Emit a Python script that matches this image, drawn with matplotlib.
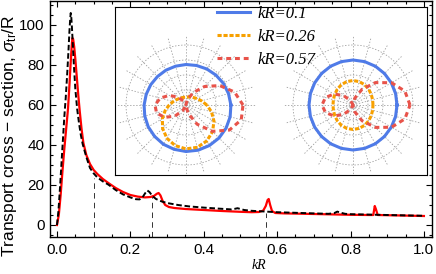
import numpy as np
import matplotlib
matplotlib.use("Agg")
import matplotlib.pyplot as plt

plt.rcParams['font.family'] = ['Liberation Sans', 'DejaVu Sans']
plt.rcParams['mathtext.fontset'] = 'custom'
plt.rcParams['mathtext.rm'] = 'Liberation Sans'
plt.rcParams['mathtext.it'] = 'Liberation Sans:italic'
plt.rcParams['lines.scale_dashes'] = False

# main curves: transport cross-section vs kR
kr_black = [0.0, 0.004, 0.008, 0.012, 0.016, 0.02, 0.024, 0.028, 0.031, 0.034, 0.036,
            0.0375, 0.039, 0.041, 0.043, 0.046, 0.05, 0.055, 0.06, 0.065, 0.07, 0.08,
            0.09, 0.1, 0.11, 0.125, 0.14, 0.16, 0.18, 0.2, 0.215, 0.225, 0.233, 0.24,
            0.246, 0.252, 0.26, 0.27, 0.285, 0.3, 0.33, 0.36, 0.4, 0.44, 0.475, 0.485,
            0.492, 0.5, 0.51, 0.53, 0.56, 0.6, 0.65, 0.7, 0.74, 0.755, 0.764, 0.772,
            0.785, 0.8, 0.85, 0.9, 0.95, 1.0]
sig_black = [0, 7, 18, 30, 42, 54, 64, 76, 86, 97, 103,
             106, 104, 98, 91, 80, 68, 58, 51, 45, 40.5, 34,
             28.5, 25.8, 23.8, 21.8, 20.2, 17.5, 15.3, 13.8, 12.9, 12.8, 13.8, 15.8,
             17.3, 16.5, 14.5, 13, 11.8, 11, 10, 9.3, 8.7, 8.2, 7.8, 8.1,
             8.4, 8, 7.5, 7.1, 6.8, 6.4, 6.1, 5.8, 5.6, 5.9, 6.7, 6.2,
             5.6, 5.4, 5.2, 5.0, 4.8, 4.6]

kr_red = [0.0, 0.005, 0.01, 0.015, 0.02, 0.025, 0.03, 0.034, 0.037, 0.04, 0.042, 0.044,
          0.047, 0.05, 0.054, 0.058, 0.062, 0.067, 0.072, 0.08, 0.09, 0.1, 0.11, 0.125,
          0.14, 0.16, 0.18, 0.2, 0.22, 0.24, 0.255, 0.265, 0.272, 0.277, 0.282, 0.288,
          0.295, 0.305, 0.32, 0.35, 0.4, 0.45, 0.5, 0.53, 0.55, 0.562, 0.569, 0.574,
          0.577, 0.581, 0.586, 0.595, 0.62, 0.65, 0.7, 0.75, 0.8, 0.85, 0.862, 0.866,
          0.869, 0.874, 0.9, 0.95, 1.0]
sig_red = [0, 5, 15, 27, 38, 48, 58, 70, 80, 89, 93.5, 93,
           89, 83, 74, 65, 57, 48, 41, 35, 30.5, 27.5, 25.5, 23,
           21, 18.5, 16.5, 15, 14.2, 13.8, 14, 14.6, 15.6, 16, 14.8, 12,
           10, 9, 8.5, 8, 7.5, 7, 6.6, 6.4, 6.5, 7.2, 9.5, 12.5,
           13, 10, 7, 6, 5.8, 5.7, 5.5, 5.3, 5.1, 5.0, 5.0, 9.5,
           8, 5, 4.9, 4.7, 4.5]

# marked kR values (dashed verticals) and where they stop
mark_kr = [0.1, 0.26, 0.57]
mark_top = [23.5, 15, 6]

# polar inset: angle grid (deg) and radii (px-like units) for each kR
theta_deg = list(range(0, 360, 15))
# left panel
rL_01 = [44.9, 44.0, 43.2, 42.3, 41.6, 40.9, 40.5, 40.2, 40.2, 40.3, 40.7, 41.2,
         41.9, 42.7, 43.6, 44.4, 45.3, 45.9, 46.5, 46.8, 46.8, 46.7, 46.3, 45.7]
rL_026 = [20.8, 16.1, 12.8, 10.5, 9.1, 8.3, 7.9, 7.95, 8.4, 9.3, 10.8, 13.2,
          16.8, 21.6, 27.3, 33.1, 38.3, 42.0, 43.9, 43.8, 41.5, 37.6, 32.3, 26.4]
rL_057 = [57.0, 50.2, 38.9, 26.1, 14.3, 5.5, 0.7, 0.4, 4.1, 10.9, 19.3, 26.7,
          31.0, 30.5, 24.8, 15.7, 6.3, 0.6, 1.2, 8.9, 22.1, 37.3, 50.1, 57.2]
# right panel
rR_01 = [44, 44.1, 44.25, 44.5, 44.75, 44.9, 45, 44.9, 44.75, 44.5, 44.25, 44.1,
         44, 44.1, 44.25, 44.5, 44.75, 44.9, 45, 44.9, 44.75, 44.5, 44.25, 44.1]
rR_026 = [20, 20.3, 21.1, 22.25, 23.4, 24.2, 24.5, 24.2, 23.4, 22.25, 21.1, 20.3,
          20, 20.3, 21.1, 22.25, 23.4, 24.2, 24.5, 24.2, 23.4, 22.25, 21.1, 20.3]
rR_057 = [57.0, 53.7, 44.5, 31.7, 18.2, 7.2, 1.0, 0.5, 5.2, 13.3, 22.0, 28.6,
          31.0, 28.6, 22.0, 13.3, 5.2, 0.5, 1.0, 7.2, 18.2, 31.7, 44.5, 53.7]

labels = ['kR=0.1', 'kR=0.26', 'kR=0.57']

W, H = 436, 274
fig = plt.figure(figsize=(W / 100, H / 100), dpi=100)
ax = fig.add_axes([50 / W, 37 / H, 382 / W, 236 / H])

ax.plot(kr_red, sig_red, color='#ff0000', lw=1.6, zorder=3)
ax.plot(kr_black, sig_black, color='black', lw=1.4, dashes=(4, 2), zorder=4)
for xm, ym in zip(mark_kr, mark_top):
    ax.plot([xm, xm], [-6, ym], color='#333333', lw=0.7, dashes=(4, 3), zorder=2)

ax.set_xlim(-0.019, 1.022)
ax.set_ylim(-6, 112)
ax.set_xticks(np.arange(0, 1.01, 0.2))
ax.set_xticks(np.arange(0, 1.01, 0.05), minor=True)
ax.set_yticks(np.arange(0, 101, 20))
ax.set_yticks(np.arange(-5, 111, 5), minor=True)
ax.set_xticklabels(['0.0', '0.2', '0.4', '0.6', '0.8', '1.0'])
ax.tick_params(which='both', direction='in', top=True, right=True, labelsize=11, width=0.8)
ax.tick_params(which='major', length=4, pad=4)
ax.tick_params(which='minor', length=2)
for s in ax.spines.values():
    s.set_linewidth(1.0)
ax.set_xlabel('kR', family='Liberation Serif', style='italic', fontsize=10)
ax.xaxis.set_label_coords(0.547, -0.095)
ax.set_ylabel(r'Transport cross $-$ section, $\sigma_{\rm tr}$/R', fontsize=12.5)
ax.yaxis.set_label_coords(-0.08, 0.43)

# inset frame
iax = fig.add_axes([115 / W, 99 / H, 312 / W, 168 / H])
iax.set_xticks([])
iax.set_yticks([])
for s in iax.spines.values():
    s.set_linewidth(0.8)

th = np.deg2rad(theta_deg + [360])
blue, orange, red = '#4f7be8', '#f7a000', '#e8534a'
handles = []
for x0, (r1, r2, r3) in zip([116, 283], [(rL_01, rL_026, rL_057), (rR_01, rR_026, rR_057)]):
    pax = fig.add_axes([x0 / W, 99 / H, 140 / W, 140 / H], projection='polar')
    pax.patch.set_alpha(0)
    pax.set_ylim(0, 70)
    pax.set_yticks([15, 30, 45, 60])
    pax.set_xticks(np.deg2rad(np.arange(0, 360, 15)))
    pax.set_xticklabels([])
    pax.set_yticklabels([])
    pax.tick_params(length=0)
    pax.grid(True, color='#a0a0a0', lw=0.6, ls=(0, (1, 1.2)))
    pax.spines['polar'].set_visible(False)
    l1, = pax.plot(th, r1 + r1[:1], color=blue, lw=2.2)
    l2, = pax.plot(th, r2 + r2[:1], color=orange, lw=2.2, dashes=(3, 1.3))
    l3, = pax.plot(th, r3 + r3[:1], color=red, lw=2.2, dashes=(3.5, 2.8))
    handles = [l1, l2, l3]

fig.legend(handles, labels, loc='upper left', bbox_to_anchor=(217 / W, (H - 6) / H),
           frameon=False, borderpad=0, borderaxespad=0, handlelength=2.0,
           handletextpad=0.45, labelspacing=0.42,
           prop={'family': 'Liberation Serif', 'style': 'italic', 'size': 12})

fig.savefig('out.png', dpi=100)
